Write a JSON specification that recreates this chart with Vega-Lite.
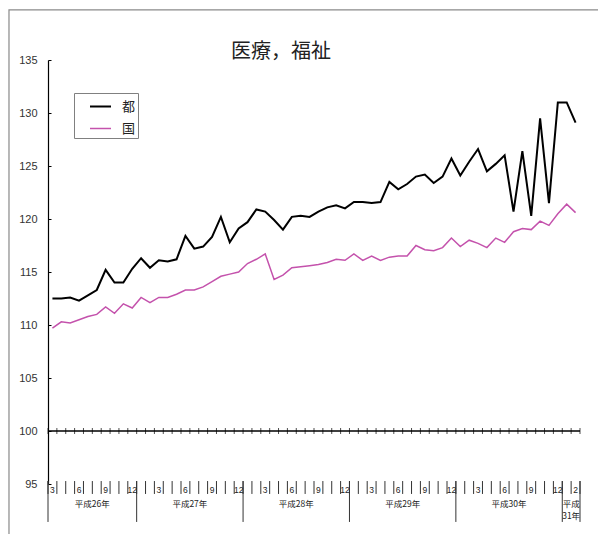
{
  "$schema": "https://vega.github.io/schema/vega-lite/v6.json",
  "autosize": {"type": "none"},
  "width": 532,
  "height": 424,
  "padding": {"left": 48, "top": 60, "right": 18, "bottom": 50},
  "background": "#ffffff",
  "config": {"view": {"stroke": null}},
  "title": {"text": "医療，福祉", "fontSize": 20, "font": "Noto Sans CJK JP", "fontWeight": "normal", "color": "#222222", "anchor": "middle", "dx": -33, "dy": 55, "offset": 2},
  "datasets": {
    "series": [
      {"i": 0, "m": "3", "都": 112.5, "国": 109.7},
      {"i": 1, "m": "", "都": 112.5, "国": 110.3},
      {"i": 2, "m": "", "都": 112.6, "国": 110.2},
      {"i": 3, "m": "6", "都": 112.3, "国": 110.5},
      {"i": 4, "m": "", "都": 112.8, "国": 110.8},
      {"i": 5, "m": "", "都": 113.3, "国": 111.0},
      {"i": 6, "m": "9", "都": 115.2, "国": 111.7},
      {"i": 7, "m": "", "都": 114.0, "国": 111.1},
      {"i": 8, "m": "", "都": 114.0, "国": 112.0},
      {"i": 9, "m": "12", "都": 115.3, "国": 111.6},
      {"i": 10, "m": "", "都": 116.3, "国": 112.6},
      {"i": 11, "m": "", "都": 115.4, "国": 112.1},
      {"i": 12, "m": "3", "都": 116.1, "国": 112.6},
      {"i": 13, "m": "", "都": 116.0, "国": 112.6},
      {"i": 14, "m": "", "都": 116.2, "国": 112.9},
      {"i": 15, "m": "6", "都": 118.4, "国": 113.3},
      {"i": 16, "m": "", "都": 117.2, "国": 113.3},
      {"i": 17, "m": "", "都": 117.4, "国": 113.6},
      {"i": 18, "m": "9", "都": 118.3, "国": 114.1},
      {"i": 19, "m": "", "都": 120.2, "国": 114.6},
      {"i": 20, "m": "", "都": 117.8, "国": 114.8},
      {"i": 21, "m": "12", "都": 119.1, "国": 115.0},
      {"i": 22, "m": "", "都": 119.7, "国": 115.8},
      {"i": 23, "m": "", "都": 120.9, "国": 116.2},
      {"i": 24, "m": "3", "都": 120.7, "国": 116.7},
      {"i": 25, "m": "", "都": 119.9, "国": 114.3},
      {"i": 26, "m": "", "都": 119.0, "国": 114.7},
      {"i": 27, "m": "6", "都": 120.2, "国": 115.4},
      {"i": 28, "m": "", "都": 120.3, "国": 115.5},
      {"i": 29, "m": "", "都": 120.2, "国": 115.6},
      {"i": 30, "m": "9", "都": 120.7, "国": 115.7},
      {"i": 31, "m": "", "都": 121.1, "国": 115.9},
      {"i": 32, "m": "", "都": 121.3, "国": 116.2},
      {"i": 33, "m": "12", "都": 121.0, "国": 116.1},
      {"i": 34, "m": "", "都": 121.6, "国": 116.7},
      {"i": 35, "m": "", "都": 121.6, "国": 116.1},
      {"i": 36, "m": "3", "都": 121.5, "国": 116.5},
      {"i": 37, "m": "", "都": 121.6, "国": 116.1},
      {"i": 38, "m": "", "都": 123.5, "国": 116.4},
      {"i": 39, "m": "6", "都": 122.8, "国": 116.5},
      {"i": 40, "m": "", "都": 123.3, "国": 116.5},
      {"i": 41, "m": "", "都": 124.0, "国": 117.5},
      {"i": 42, "m": "9", "都": 124.2, "国": 117.1},
      {"i": 43, "m": "", "都": 123.4, "国": 117.0},
      {"i": 44, "m": "", "都": 124.0, "国": 117.3},
      {"i": 45, "m": "12", "都": 125.7, "国": 118.2},
      {"i": 46, "m": "", "都": 124.1, "国": 117.4},
      {"i": 47, "m": "", "都": 125.4, "国": 118.0},
      {"i": 48, "m": "3", "都": 126.6, "国": 117.7},
      {"i": 49, "m": "", "都": 124.5, "国": 117.3},
      {"i": 50, "m": "", "都": 125.2, "国": 118.2},
      {"i": 51, "m": "6", "都": 126.0, "国": 117.8},
      {"i": 52, "m": "", "都": 120.7, "国": 118.8},
      {"i": 53, "m": "", "都": 126.4, "国": 119.1},
      {"i": 54, "m": "9", "都": 120.3, "国": 119.0},
      {"i": 55, "m": "", "都": 129.5, "国": 119.8},
      {"i": 56, "m": "", "都": 121.5, "国": 119.4},
      {"i": 57, "m": "12", "都": 131.0, "国": 120.5},
      {"i": 58, "m": "", "都": 131.0, "国": 121.4},
      {"i": 59, "m": "2", "都": 129.1, "国": 120.6}
    ],
    "bounds": [
      {"b": -0.5, "yr": true}, {"b": 0.5, "yr": false}, {"b": 1.5, "yr": false}, {"b": 2.5, "yr": false}, {"b": 3.5, "yr": false},
      {"b": 4.5, "yr": false}, {"b": 5.5, "yr": false}, {"b": 6.5, "yr": false}, {"b": 7.5, "yr": false}, {"b": 8.5, "yr": false},
      {"b": 9.5, "yr": true}, {"b": 10.5, "yr": false}, {"b": 11.5, "yr": false}, {"b": 12.5, "yr": false}, {"b": 13.5, "yr": false},
      {"b": 14.5, "yr": false}, {"b": 15.5, "yr": false}, {"b": 16.5, "yr": false}, {"b": 17.5, "yr": false}, {"b": 18.5, "yr": false},
      {"b": 19.5, "yr": false}, {"b": 20.5, "yr": false}, {"b": 21.5, "yr": true}, {"b": 22.5, "yr": false}, {"b": 23.5, "yr": false},
      {"b": 24.5, "yr": false}, {"b": 25.5, "yr": false}, {"b": 26.5, "yr": false}, {"b": 27.5, "yr": false}, {"b": 28.5, "yr": false},
      {"b": 29.5, "yr": false}, {"b": 30.5, "yr": false}, {"b": 31.5, "yr": false}, {"b": 32.5, "yr": false}, {"b": 33.5, "yr": true},
      {"b": 34.5, "yr": false}, {"b": 35.5, "yr": false}, {"b": 36.5, "yr": false}, {"b": 37.5, "yr": false}, {"b": 38.5, "yr": false},
      {"b": 39.5, "yr": false}, {"b": 40.5, "yr": false}, {"b": 41.5, "yr": false}, {"b": 42.5, "yr": false}, {"b": 43.5, "yr": false},
      {"b": 44.5, "yr": false}, {"b": 45.5, "yr": true}, {"b": 46.5, "yr": false}, {"b": 47.5, "yr": false}, {"b": 48.5, "yr": false},
      {"b": 49.5, "yr": false}, {"b": 50.5, "yr": false}, {"b": 51.5, "yr": false}, {"b": 52.5, "yr": false}, {"b": 53.5, "yr": false},
      {"b": 54.5, "yr": false}, {"b": 55.5, "yr": false}, {"b": 56.5, "yr": false}, {"b": 57.5, "yr": true}, {"b": 58.5, "yr": false},
      {"b": 59.5, "yr": true}
    ],
    "years": [
      {"c": 4.5, "label": "平成26年"},
      {"c": 15.5, "label": "平成27年"},
      {"c": 27.5, "label": "平成28年"},
      {"c": 39.5, "label": "平成29年"},
      {"c": 51.5, "label": "平成30年"},
      {"c": 58.5, "label": "平成\n31年"}
    ]
  },
  "layer": [
    {
      "data": {"values": [{"x1": -4.9, "x2": 62, "y1": 139.72, "y2": 88}]},
      "mark": {"type": "rect", "fill": null, "stroke": "#8a8a8a", "strokeWidth": 1.2, "clip": false},
      "encoding": {
        "x": {"field": "x1", "type": "quantitative", "scale": {"domain": [-0.5, 59.5], "nice": false, "zero": false}, "axis": null},
        "x2": {"field": "x2"},
        "y": {"field": "y1", "type": "quantitative", "scale": {"domain": [95, 135], "nice": false, "zero": false},
          "axis": {"values": [95, 100, 105, 110, 115, 120, 125, 130, 135], "title": null, "grid": false, "domain": true, "domainColor": "#000000", "domainWidth": 1.2, "ticks": true, "tickSize": -3, "tickColor": "#000000", "tickWidth": 1, "labelPadding": 14, "labelFontSize": 11, "labelColor": "#333333", "labelFont": "Liberation Sans"}},
        "y2": {"field": "y2"}
      }
    },
    {
      "data": {"values": [{"a": -0.5, "b": 59.5, "v": 100}]},
      "mark": {"type": "rule", "color": "#000000", "strokeWidth": 1.5},
      "encoding": {
        "x": {"field": "a", "type": "quantitative"},
        "x2": {"field": "b"},
        "y": {"field": "v", "type": "quantitative"}
      }
    },
    {
      "data": {"name": "bounds"},
      "mark": {"type": "tick", "orient": "vertical", "size": 6, "thickness": 1, "color": "#000000"},
      "encoding": {
        "x": {"field": "b", "type": "quantitative"},
        "y": {"datum": 100, "type": "quantitative"}
      }
    },
    {
      "data": {"name": "bounds"},
      "mark": {"type": "rule", "color": "#333333", "strokeWidth": 1, "clip": false},
      "encoding": {
        "x": {"field": "b", "type": "quantitative"},
        "y": {"datum": 95.28, "type": "quantitative"},
        "y2": {"datum": 94.06}
      }
    },
    {
      "data": {"name": "bounds"},
      "transform": [{"filter": "datum.yr"}],
      "mark": {"type": "rule", "color": "#333333", "strokeWidth": 1, "clip": false},
      "encoding": {
        "x": {"field": "b", "type": "quantitative"},
        "y": {"datum": 95.28, "type": "quantitative"},
        "y2": {"datum": 91.42}
      }
    },
    {
      "data": {"name": "series"},
      "transform": [{"filter": "datum.m != ''"}],
      "mark": {"type": "text", "fontSize": 8.5, "font": "Liberation Sans", "color": "#222222", "baseline": "middle", "align": "center", "clip": false},
      "encoding": {
        "x": {"field": "i", "type": "quantitative"},
        "y": {"datum": 94.4, "type": "quantitative"},
        "text": {"field": "m"}
      }
    },
    {
      "data": {"name": "years"},
      "mark": {"type": "text", "fontSize": 8.5, "font": "Noto Sans CJK JP", "color": "#222222", "baseline": "top", "align": "center", "lineBreak": "\n", "lineHeight": 12, "clip": false},
      "encoding": {
        "x": {"field": "c", "type": "quantitative"},
        "y": {"datum": 93.45, "type": "quantitative"},
        "text": {"field": "label"}
      }
    },
    {
      "data": {"name": "series"},
      "transform": [{"fold": ["都", "国"], "as": ["系列", "指数"]}],
      "mark": {"type": "line"},
      "encoding": {
        "x": {"field": "i", "type": "quantitative"},
        "y": {"field": "指数", "type": "quantitative"},
        "color": {"field": "系列", "type": "nominal", "scale": {"domain": ["都", "国"], "range": ["#000000", "#C452AC"]},
          "legend": {"orient": "none", "legendX": 26, "legendY": 33, "title": null, "symbolType": "stroke", "symbolSize": 441, "symbolStrokeWidth": 2, "labelFontSize": 13, "labelFont": "Noto Sans CJK JP", "labelColor": "#222222", "strokeColor": "#808080", "fillColor": "#ffffff", "padding": 2, "rowPadding": 3, "symbolOffset": 13, "labelOffset": 10, "labelExpr": "datum.label + '\u2003\u2003'"}},
        "strokeWidth": {"field": "系列", "type": "nominal", "scale": {"domain": ["都", "国"], "range": [2, 1.5]}, "legend": null}
      }
    }
  ]
}
